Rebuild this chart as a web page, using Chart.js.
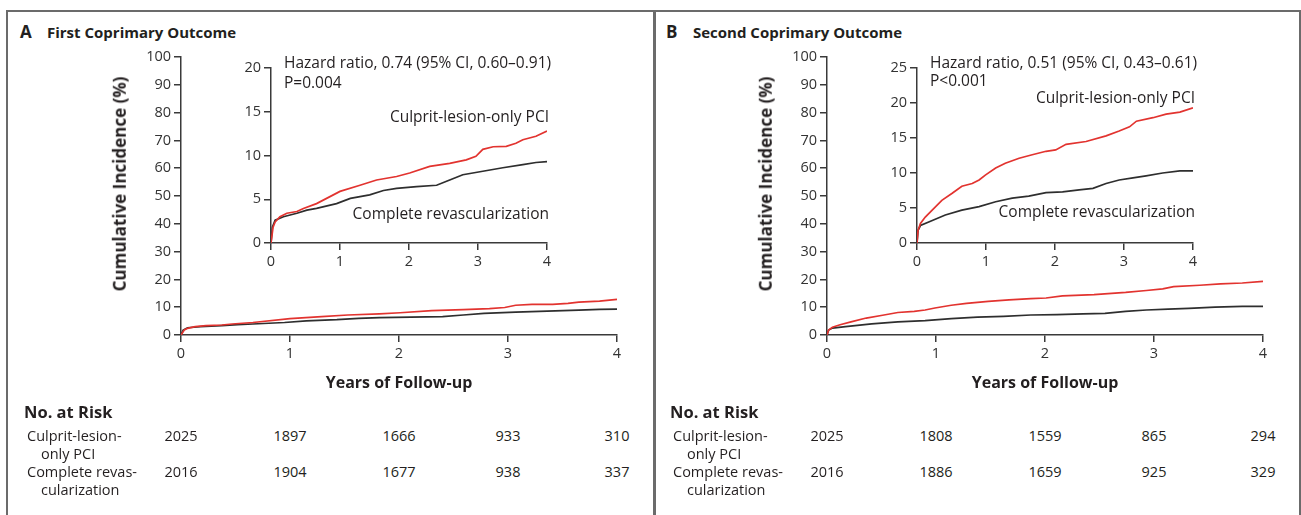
<!DOCTYPE html>
<html>
<head>
<meta charset="utf-8">
<script src="https://cdn.jsdelivr.net/npm/chart.js@4.4.0/dist/chart.umd.min.js"></script>
<style>
  body { margin: 0; background: #fff; width: 1301px; height: 515px; overflow: hidden; position: relative;
         font-family: 'Open Sans', 'Noto Sans', sans-serif; color: #231f20; }
  .frame { position: absolute; top: 10px; height: 520px; border: 2px solid #6b6b6b; border-bottom: none; box-sizing: border-box; }
  .txt { position: absolute; white-space: nowrap; line-height: 1.2; transform: translateY(-50%); }
  .bold { font-weight: bold; }
  canvas { position: absolute; }
</style>
</head>
<body>
<div class="frame" style="left:6px; width:650px;"></div>
<div class="frame" style="left:653px; width:648px;"></div>

<script>
// Kaplan-Meier curves (years, cumulative incidence %)
const firstRedYears   = [0, 0.03, 0.06, 0.13, 0.23, 0.375, 0.47, 0.66, 1.0, 1.29, 1.53, 1.82, 2.01, 2.3, 2.59, 2.83, 2.97, 3.07, 3.22, 3.41, 3.55, 3.65, 3.84, 4.0];
const firstRedPct     = [0, 1.8, 2.4, 3.0, 3.4, 3.6, 3.95, 4.5, 5.9, 6.6, 7.2, 7.6, 8.0, 8.75, 9.1, 9.5, 9.9, 10.7, 11.0, 11.05, 11.4, 11.8, 12.2, 12.8];
const firstBlackYears = [0, 0.02, 0.06, 0.18, 0.375, 0.52, 0.66, 0.95, 1.15, 1.43, 1.63, 1.82, 2.11, 2.4, 2.59, 2.78, 3.07, 3.36, 3.65, 3.84, 4.0];
const firstBlackPct   = [0, 1.8, 2.6, 3.0, 3.4, 3.76, 3.95, 4.5, 5.1, 5.5, 6.0, 6.25, 6.45, 6.6, 7.2, 7.8, 8.2, 8.6, 8.95, 9.2, 9.3];

const secondRedYears   = [0, 0.015, 0.05, 0.12, 0.22, 0.36, 0.51, 0.65, 0.8, 0.9, 0.99, 1.14, 1.28, 1.48, 1.67, 1.87, 2.01, 2.16, 2.45, 2.74, 2.93, 3.08, 3.18, 3.42, 3.61, 3.81, 4.0];
const secondRedPct     = [0, 1.8, 2.8, 3.7, 4.7, 6.1, 7.1, 8.1, 8.5, 9.0, 9.7, 10.7, 11.4, 12.1, 12.6, 13.1, 13.3, 14.1, 14.5, 15.3, 16.0, 16.6, 17.4, 17.9, 18.4, 18.7, 19.3];
const secondBlackYears = [0, 0.015, 0.05, 0.17, 0.41, 0.65, 0.9, 1.14, 1.38, 1.62, 1.87, 2.11, 2.35, 2.55, 2.74, 2.93, 3.13, 3.32, 3.56, 3.81, 4.0];
const secondBlackPct   = [0, 1.8, 2.5, 3.0, 4.0, 4.7, 5.2, 5.9, 6.4, 6.7, 7.2, 7.3, 7.6, 7.8, 8.5, 9.0, 9.3, 9.6, 10.0, 10.3, 10.3];

// number at risk
const riskYears = [0, 1, 2, 3, 4];
const firstCulprit   = [2025, 1897, 1666, 933, 310];
const firstComplete  = [2016, 1904, 1677, 938, 337];
const secondCulprit  = [2025, 1808, 1559, 865, 294];
const secondComplete = [2016, 1886, 1659, 925, 329];

const panels = [
  { letter: 'A', title: 'First Coprimary Outcome', dx: 0,
    hr: 'Hazard ratio, 0.74 (95% CI, 0.60\u20130.91)', p: 'P=0.004', insetMax: 20, culpritY: 116, completeY: 213, pY: 82,
    red: [firstRedYears, firstRedPct], black: [firstBlackYears, firstBlackPct], risk: [firstCulprit, firstComplete] },
  { letter: 'B', title: 'Second Coprimary Outcome', dx: 646,
    hr: 'Hazard ratio, 0.51 (95% CI, 0.43\u20130.61)', p: 'P<0.001', insetMax: 25, culpritY: 97, completeY: 211, pY: 80,
    red: [secondRedYears, secondRedPct], black: [secondBlackYears, secondBlackPct], risk: [secondCulprit, secondComplete] }
];

const RED = '#e2332f';
const BLACK = '#2e2e2e';
const AXIS = '#3a3a3a';
const FONT = "'Open Sans', 'Noto Sans', sans-serif";

function pts(xs, ys) {
  return xs.map((x, i) => ({ x: x, y: ys[i] }));
}

function addText(str, left, top, opts) {
  opts = opts || {};
  const d = document.createElement('div');
  d.className = 'txt' + (opts.bold ? ' bold' : '');
  d.textContent = str;
  d.style.top = top + 'px';
  d.style.fontSize = (opts.size || 14) + 'px';
  if (opts.right !== undefined) {
    d.style.right = (1301 - opts.right) + 'px';
  } else {
    d.style.left = left + 'px';
    if (opts.center) d.style.transform = 'translate(-50%, -50%)';
    if (opts.rotate) d.style.transform = 'translate(-50%, -50%) rotate(-90deg)';
  }
  document.body.appendChild(d);
}

function makeCanvas(left, top, w, h) {
  const c = document.createElement('canvas');
  c.width = w; c.height = h;
  c.style.left = left + 'px'; c.style.top = top + 'px';
  c.style.width = w + 'px'; c.style.height = h + 'px';
  document.body.appendChild(c);
  return c;
}

function axisOpts(min, max, step, fixed, title) {
  return {
    type: 'linear', min: min, max: max,
    afterFit: fixed,
    ticks: { stepSize: step, color: '#333', padding: 3, font: { family: FONT, size: 14.5 } },
    grid: { drawOnChartArea: false, drawTicks: true, tickLength: 7, color: AXIS, lineWidth: 1.5 },
    border: { display: true, color: AXIS, width: 1.5 },
    title: title || { display: false }
  };
}

function makeChart(canvas, p, yMax, yStep, geom, xTitle) {
  return new Chart(canvas, {
    type: 'line',
    data: {
      datasets: [
        { data: pts(p.red[0], p.red[1]), borderColor: RED, borderWidth: 1.7 },
        { data: pts(p.black[0], p.black[1]), borderColor: BLACK, borderWidth: 1.7 }
      ]
    },
    options: {
      responsive: false,
      animation: false,
      layout: { padding: geom.padding },
      elements: { point: { radius: 0 }, line: { tension: 0 } },
      plugins: { legend: { display: false }, tooltip: { enabled: false } },
      scales: {
        x: axisOpts(0, 4, 1, s => { s.height = geom.xh; }, xTitle ? {
          display: true, text: 'Years of Follow-up', color: '#231f20',
          font: { family: FONT, size: 16, weight: 'bold' }, padding: { top: 0, bottom: 17 }
        } : null),
        y: axisOpts(0, yMax, yStep, s => { s.width = geom.yw; }, null)
      }
    }
  });
}

panels.forEach(p => {
  const dx = p.dx;

  addText(p.letter, 20 + dx, 32, { bold: true, size: 17 });
  addText(p.title, 47 + dx, 32, { bold: true, size: 15 });

  // main plot
  const mainLeft = 100 + dx;
  const main = makeCanvas(mainLeft, 40, 540, 370);
  const mainChart = makeChart(main, p, 100, 10, { padding: { top: 17, right: 23, left: 0, bottom: 0 }, xh: 75, yw: 81 }, true);
  addText('Cumulative Incidence (%)', 120 + dx, 184, { bold: true, size: 17 , rotate: true });

  // inset plot
  const inset = makeCanvas(225 + dx, 55, 340, 225);
  makeChart(inset, p, p.insetMax, 5, { padding: { top: 13, right: 18, left: 0, bottom: 0 }, xh: 37, yw: 46 }, false);

  addText(p.hr, 284 + dx, 62, { size: 15.5 });
  addText(p.p, 284 + dx, p.pY, { size: 15.5 });
  addText('Culprit-lesion-only PCI', 0, p.culpritY, { size: 15.5, right: 549 + dx });
  addText('Complete revascularization', 0, p.completeY, { size: 15.5, right: 549 + dx });

  // number at risk table, columns under the main x-axis ticks
  addText('No. at Risk', 24 + dx, 412, { bold: true, size: 16.5 });
  addText('Culprit-lesion-', 27 + dx, 436, { size: 14.5 });
  addText('only PCI', 41 + dx, 454, { size: 14.5 });
  addText('Complete revas-', 27 + dx, 472, { size: 14.5 });
  addText('cularization', 41 + dx, 490, { size: 14.5 });
  const xs = mainChart.scales.x;
  riskYears.forEach((yr, i) => {
    const cx = mainLeft + xs.getPixelForValue(yr);
    addText(String(p.risk[0][i]), cx, 436, { size: 14.5, center: true });
    addText(String(p.risk[1][i]), cx, 472, { size: 14.5, center: true });
  });
});
</script>
</body>
</html>
